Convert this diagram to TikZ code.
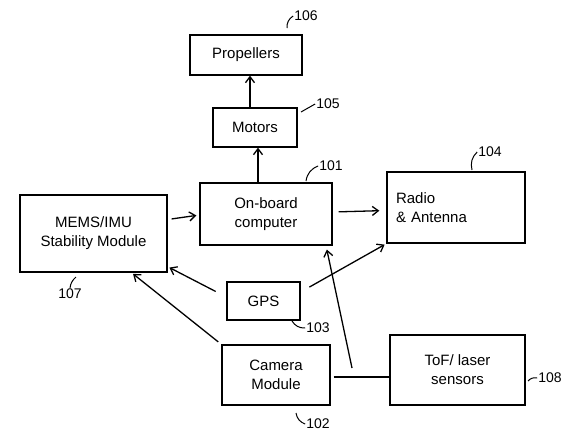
\documentclass[tikz,border=0pt]{standalone}
\usepackage{fontspec}
\setmainfont{Liberation Sans}
\usetikzlibrary{calc,arrows.meta}
\tikzset{
  blk/.style={draw, line width=1.3pt, rectangle, inner sep=2pt, align=center, font=\fontsize{15}{19}\selectfont},
  con/.style={line width=1.3pt, -{Straight Barb[length=6pt,width=9pt]}},
  ref/.style={font=\fontsize{14}{16}\selectfont, inner sep=1pt},
  lead/.style={line width=1pt}
}
\begin{document}
\begin{tikzpicture}[x=1pt,y=-1pt]
\useasboundingbox (0,0) rectangle (569,434);
% blocks
\node[blk, minimum width=112pt, minimum height=40pt] (prop) at (246,55) {Propellers};
\node[blk, minimum width=84pt, minimum height=39pt] (mot) at (255,127.5) {Motors};
\node[blk, minimum width=132pt, minimum height=62pt] (obc) at (266,214) {On-board\\computer};
\node[blk, minimum width=138pt, minimum height=71pt, text width=120pt, align=left] (rad) at (456,207.5) {Radio\\\& Antenna};
\node[blk, minimum width=147pt, minimum height=77pt] (mems) at (93.5,233.5) {MEMS/IMU\\Stability Module};
\node[blk, minimum width=73pt, minimum height=38pt] (gps) at (263.5,301) {GPS};
\node[blk, minimum width=108pt, minimum height=60pt] (cam) at (276,375) {Camera\\Module};
\node[blk, minimum width=135pt, minimum height=70pt] (tof) at (457.5,370) {ToF/ laser\\sensors};
% reference numerals
\node[ref] (n106) at (306,16) {106};
\draw[lead] (287,28) to[bend left=30] (n106.west);
\node[ref] (n105) at (328,104) {105};
\draw[lead] (301,112) -- (n105.west);
\node[ref] (n101) at (331,166) {101};
\draw[lead] (306,181) to[bend left=30] (n101.west);
\node[ref] (n104) at (490,152) {104};
\draw[lead] (472,170) to[bend left=30] (n104.west);
\node[ref] (n107) at (70,294) {107};
\draw[lead] (n107.north) to[bend left=20] (76,277);
\node[ref] (n103) at (318,328) {103};
\draw[lead] (292,321) to[bend right=30] (n103.west);
\node[ref] (n102) at (318,424) {102};
\draw[lead] (296,413) to[bend right=30] (n102.west);
\node[ref] (n108) at (550,378) {108};
\draw[lead] (528,381) to[bend left=30] (n108.west);
% connectors
\draw[con] ([xshift=-5pt]mot.north) -- ([xshift=4pt]prop.south);
\draw[con] ([xshift=-8pt]obc.north) -- ([xshift=3pt]mot.south);
\draw[con, shorten <=4pt, shorten >=3pt] ([yshift=14pt]mems.east) -- ([yshift=-1pt]obc.west);
\draw[con, shorten <=6pt, shorten >=7pt] ([yshift=2pt]obc.east) -- ([yshift=-3pt]rad.west);
\draw[con, shorten <=12pt, shorten >=2pt] ([yshift=4pt]gps.west) -- ([yshift=6pt]mems.south east);
\draw[con, shorten <=10pt, shorten >=2pt] ([yshift=9pt]gps.east) -- (rad.south west);
\draw[con, shorten <=4pt, shorten >=2pt] (cam.north west) -- ($(mems.south)+(38,0)$);
\coordinate (j) at (352,368);
\draw[con, shorten >=4pt] (j) -- ($(obc.south)+(60,0)$);
\draw[line width=1.3pt, shorten <=3pt] ([yshift=-2pt]cam.east) -- ([yshift=-7pt]tof.west);
\end{tikzpicture}
\end{document}
